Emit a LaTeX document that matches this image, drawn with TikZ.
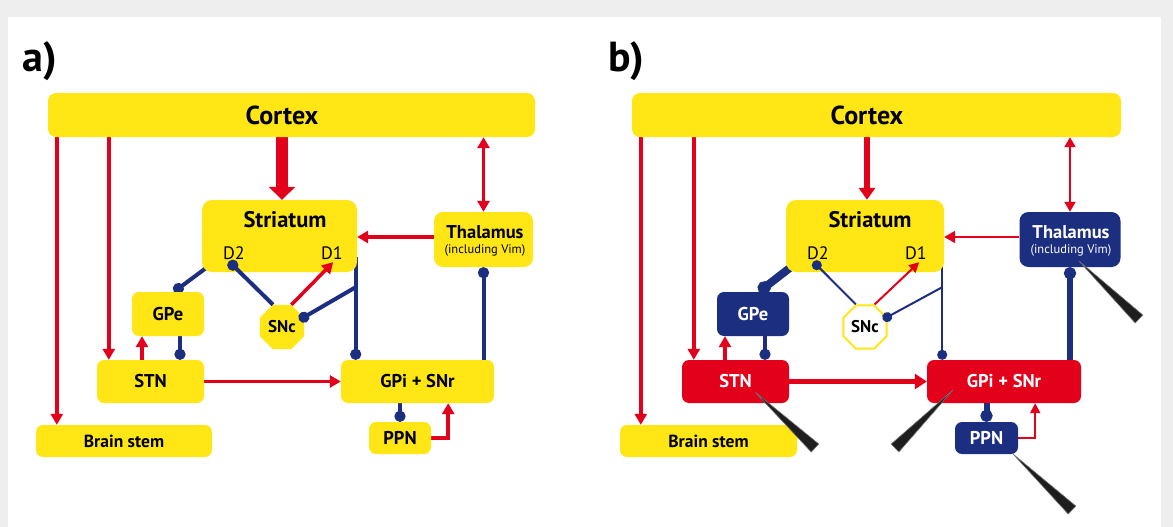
\documentclass[tikz,border=0pt]{standalone}
\usepackage{fontspec}
\setmainfont{PT Sans}
\usetikzlibrary{arrows.meta,shapes.geometric,calc}
\definecolor{byel}{RGB}{255,230,20}
\definecolor{bred}{RGB}{226,0,26}
\definecolor{bnavy}{RGB}{28,46,128}
\definecolor{bgray}{RGB}{238,238,238}
\definecolor{elecc}{RGB}{30,30,30}
\pgfdeclarelayer{back}
\pgfdeclarelayer{conn}
\pgfsetlayers{back,conn,main}
\newcommand\elec[2]{\fill[elecc, draw=black!55, line width=0.6pt, line join=round] (#1) -- ($(#2)!5.5pt!90:(#1)$) -- ($(#2)!5.5pt!-90:(#1)$) -- cycle;}
\tikzset{
  box/.style={rectangle, rounded corners=7pt, fill=byel, inner sep=0pt, text=black, font=\fontsize{18.5}{20}\selectfont\bfseries},
  navybox/.style={box, fill=bnavy, text=white},
  redbox/.style={box, fill=bred, text=white},
  lbl/.style={inner sep=0pt, text=black},
  ctxfont/.style={font=\fontsize{26}{28}\selectfont\bfseries},
  strfont/.style={font=\fontsize{22.5}{24}\selectfont\bfseries},
  thfont/.style={font=\fontsize{18.5}{20}\selectfont\bfseries},
  subfont/.style={font=\fontsize{12.5}{14}\selectfont},
  dfont/.style={font=\fontsize{18}{20}\selectfont},
  sncfont/.style={font=\fontsize{17}{18}\selectfont\bfseries},
  bsfont/.style={font=\fontsize{17.5}{19}\selectfont\bfseries},
  panfont/.style={font=\fontsize{42}{44}\selectfont\bfseries},
  exc/.style={draw=bred, line width=3.5pt, -{Triangle[length=11pt,width=12pt]}},
  excthin/.style={draw=bred, line width=2pt, -{Triangle[length=10pt,width=10pt]}},
  inh/.style={draw=bnavy, line width=4pt, -{Circle[length=11pt]}},
  inhthin/.style={draw=bnavy, line width=2pt, -{Circle[length=10pt]}},
}
\begin{document}
\begin{tikzpicture}[x=1pt,y=-1pt]
\useasboundingbox (0,0) rectangle (1173,527);
\begin{pgfonlayer}{back}
\fill[bgray] (0,0) rectangle (1173,527);
\fill[white] (8,17) rectangle (1161,527);
\end{pgfonlayer}

% ================= panel a =================
\node[lbl, panfont] (aLab) at (40,61) {a)};
\node[box, minimum width=487pt, minimum height=44pt, rounded corners=8pt] (aCtx) at (291.5,115) {};
\node[lbl, ctxfont] (aCtxT) at (282,115) {Cortex};
\node[box, minimum width=155pt, minimum height=72pt, rounded corners=10pt] (aStr) at (279.5,236) {};
\node[lbl, strfont] (aStrT) at (285,220) {Striatum};
\node[lbl, dfont] (aD2) at (234,253) {D2};
\node[lbl, dfont] (aD1) at (332,253) {D1};
\node[box, minimum width=99pt, minimum height=55pt, rounded corners=9pt] (aTh) at (483.5,239.5) {};
\node[lbl, thfont] (aThT) at (485,232) {Thalamus};
\node[lbl, subfont] (aThS) at (485,250) {(including Vim)};
\node[box, minimum width=72pt, minimum height=44pt] (aGPe) at (168,314) {GPe};
\node[box, regular polygon, regular polygon sides=8, minimum size=48pt, sharp corners, sncfont] (aSNc) at (282,327) {SNc};
\node[box, minimum width=107pt, minimum height=43pt] (aSTN) at (150.5,381.5) {STN};
\node[box, minimum width=153pt, minimum height=43pt] (aGPi) at (417.5,381.5) {GPi + SNr};
\node[box, minimum width=176pt, minimum height=32pt, bsfont] (aBs) at (124,441) {Brain stem};
\node[box, minimum width=62pt, minimum height=32pt] (aPPN) at (400,438) {PPN};

\coordinate (aBsIn) at ([xshift=21pt]aBs.north west);
\coordinate (aStnIn) at ([xshift=12pt]aSTN.north west);
\coordinate (aStrIn) at ([xshift=2.5pt]aStr.north);
\coordinate (aThW) at ([yshift=2.5pt]aTh.west);
\coordinate (aV) at ([xshift=-1.5pt]aStr.south east);
\coordinate (aVb) at ([yshift=-15pt]aV);
\coordinate (aD2p) at ([xshift=31pt,yshift=7pt]aStr.south west);
\coordinate (aD1p) at ([xshift=-24pt,yshift=10pt]aStr.south east);
\coordinate (aGS) at ([xshift=12pt]aGPe.south);
\coordinate (aSG) at ([xshift=-26pt]aGPe.south);
\coordinate (aPG) at ([xshift=17pt]aPPN.east);

\begin{pgfonlayer}{conn}
\draw[exc] (aCtx.south -| aBsIn) -- (aBsIn);
\draw[exc] (aCtx.south -| aStnIn) -- (aStnIn);
\draw[draw=bred, line width=12pt, -{Triangle[length=13pt,width=26pt]}] (aCtx.south -| aStrIn) -- (aStrIn);
\draw[exc, {Triangle[length=11pt,width=12pt]}-{Triangle[length=11pt,width=12pt]}] (aCtx.south -| aTh.north) -- (aTh.north);
\draw[exc] (aThW) -- (aThW -| aStr.east);
\draw[inh] ([xshift=4pt,yshift=4pt]aStr.south west) -- ([xshift=6pt]aGPe.north);
\draw[inh] ([yshift=15pt]aV) -- (aV |- aGPi.north);
\draw[inh, {Circle[length=11pt]}-] (aTh.south) -- (aTh.south |- aGPi.north);
\draw[inh] (aGS) -- (aGS |- aSTN.north);
\draw[exc] (aSG |- aSTN.north) -- (aSG);
\draw[exc] (aSTN.east) -- (aGPi.west);
\draw[inh] (aPPN.north |- aGPi.south) -- (aPPN.north);
\draw[exc, line width=4pt] (aPPN.east) -- (aPG) -- (aPG |- aGPi.south);
\end{pgfonlayer}
\draw[inh] (aSNc.112.5) -- ($(aD2p)!-5.5pt!(aSNc.112.5)$);
\draw[exc] (aSNc.67.5) -- (aD1p);
\draw[inh] (aVb) -- ($(aSNc.24)!-5.5pt!(aVb)$);

% ================= panel b =================
\begin{scope}[xshift=585pt]
\node[lbl, panfont] (bLab) at (41,61) {b)};
\node[box, minimum width=489pt, minimum height=44pt, rounded corners=8pt] (bCtx) at (291.5,115) {};
\node[lbl, ctxfont] (bCtxT) at (282,115) {Cortex};
\node[box, minimum width=158pt, minimum height=72pt, rounded corners=10pt] (bStr) at (280,236) {};
\node[lbl, strfont] (bStrT) at (285,220) {Striatum};
\node[lbl, dfont] (bD2) at (233,253) {D2};
\node[lbl, dfont] (bD1) at (331,253) {D1};
\node[navybox, minimum width=101pt, minimum height=55pt, rounded corners=9pt] (bTh) at (485,239.5) {};
\node[lbl, text=white, thfont] (bThT) at (486,232) {Thalamus};
\node[lbl, text=white, subfont] (bThS) at (486,250) {(including Vim)};
\node[navybox, minimum width=72pt, minimum height=44pt] (bGPe) at (168,314) {GPe};
\node[box, regular polygon, regular polygon sides=8, minimum size=47pt, sharp corners, fill=white, draw=byel, line width=2pt, sncfont] (bSNc) at (280,327) {SNc};
\node[redbox, minimum width=107pt, minimum height=43pt] (bSTN) at (150.5,381.5) {STN};
\node[redbox, minimum width=154pt, minimum height=43pt] (bGPi) at (419,381.5) {GPi + SNr};
\node[box, minimum width=177pt, minimum height=32pt, bsfont] (bBs) at (123.5,441) {Brain stem};
\node[navybox, minimum width=63pt, minimum height=32pt] (bPPN) at (401.5,438) {PPN};

\coordinate (bBsIn) at ([xshift=21pt]bBs.north west);
\coordinate (bStnIn) at ([xshift=12pt]bSTN.north west);
\coordinate (bStrIn) at ([xshift=2pt]bStr.north);
\coordinate (bThW) at ([yshift=2.5pt]bTh.west);
\coordinate (bV) at ([xshift=-2pt]bStr.south east);
\coordinate (bVb) at ([yshift=-15pt]bV);
\coordinate (bD2p) at ([xshift=31pt,yshift=7pt]bStr.south west);
\coordinate (bD1p) at ([xshift=-25pt,yshift=10pt]bStr.south east);
\coordinate (bGS) at ([xshift=12pt]bGPe.south);
\coordinate (bSG) at ([xshift=-28pt]bGPe.south);
\coordinate (bPG) at ([xshift=17pt]bPPN.east);

\begin{pgfonlayer}{conn}
\draw[exc] (bCtx.south -| bBsIn) -- (bBsIn);
\draw[exc] (bCtx.south -| bStnIn) -- (bStnIn);
\draw[draw=bred, line width=6pt, -{Triangle[length=12pt,width=16pt]}] (bCtx.south -| bStrIn) -- (bStrIn);
\draw[excthin, {Triangle[length=10pt,width=11pt]}-{Triangle[length=10pt,width=11pt]}] (bCtx.south -| bTh.north) -- (bTh.north);
\draw[excthin, -{Triangle[length=11pt,width=12pt]}] (bThW) -- (bThW -| bStr.east);
\draw[inh, line width=8pt, -{Circle[length=13pt]}] ([xshift=5pt,yshift=5pt]bStr.south west) -- ([xshift=6pt]bGPe.north);
\draw[inhthin] ([yshift=15pt]bV) -- (bV |- bGPi.north);
\draw[inh, line width=6pt, {Circle[length=12pt]}-] (bTh.south) -- (bTh.south |- bGPi.north);
\draw[inh] (bGS) -- (bGS |- bSTN.north);
\draw[exc] (bSG |- bSTN.north) -- (bSG);
\draw[exc, line width=5.5pt, -{Triangle[length=12pt,width=15pt]}] (bSTN.east) -- (bGPi.west);
\draw[inh, line width=6pt, -{Circle[length=12pt]}] (bPPN.north |- bGPi.south) -- (bPPN.north);
\draw[excthin] (bPPN.east) -- (bPG) -- (bPG |- bGPi.south);
\end{pgfonlayer}
\draw[inhthin] (bSNc.112.5) -- ($(bD2p)!-5pt!(bSNc.112.5)$);
\draw[excthin] (bSNc.67.5) -- (bD1p);
\draw[inhthin] (bVb) -- ($(bSNc.24)!-5pt!(bVb)$);

% electrodes
\coordinate (eThT) at (494,261);
\coordinate (eThE) at (554,319);
\coordinate (eStT) at (170,392);
\coordinate (eStE) at (230,448);
\coordinate (eGpT) at (368,390);
\coordinate (eGpE) at (310,448);
\coordinate (ePpT) at (428,454);
\coordinate (ePpE) at (487,510);
\elec{eThT}{eThE}
\elec{eStT}{eStE}
\elec{eGpT}{eGpE}
\elec{ePpT}{ePpE}
\end{scope}
\end{tikzpicture}
\end{document}
